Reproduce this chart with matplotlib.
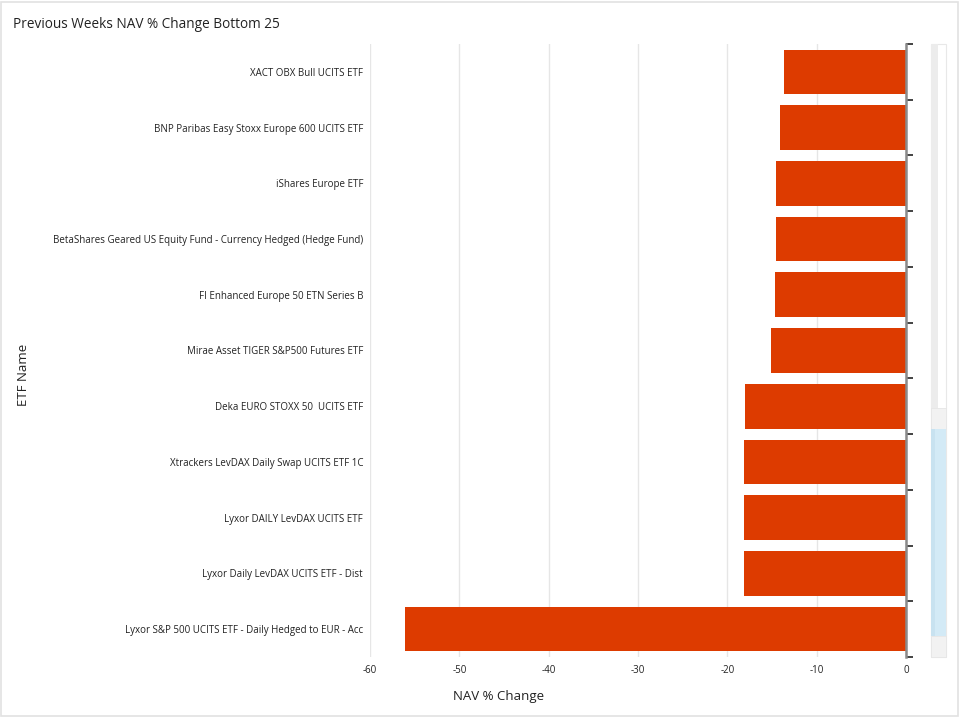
import matplotlib
matplotlib.use("Agg")
import matplotlib.pyplot as plt
from matplotlib.patches import Rectangle
import numpy as np

plt.rcParams['font.family'] = ['Open Sans', 'DejaVu Sans']

etf_names = [
    "XACT OBX Bull UCITS ETF",
    "BNP Paribas Easy Stoxx Europe 600 UCITS ETF",
    "iShares Europe ETF",
    "BetaShares Geared US Equity Fund - Currency Hedged (Hedge Fund)",
    "FI Enhanced Europe 50 ETN Series B",
    "Mirae Asset TIGER S&P500 Futures ETF",
    "Deka EURO STOXX 50  UCITS ETF",
    "Xtrackers LevDAX Daily Swap UCITS ETF 1C",
    "Lyxor DAILY LevDAX UCITS ETF",
    "Lyxor Daily LevDAX UCITS ETF - Dist",
    "Lyxor S&P 500 UCITS ETF - Daily Hedged to EUR - Acc",
]
nav_change = [-13.66, -14.10, -14.55, -14.55, -14.66, -15.11,
              -18.02, -18.13, -18.13, -18.13, -56.08]
x_ticks = [-60, -50, -40, -30, -20, -10, 0]

W, H = 960, 720
fig = plt.figure(figsize=(W / 100, H / 100), dpi=100)
fig.patch.set_facecolor('white')

# card border
fig.add_artist(Rectangle((1 / W, 4 / H), 957 / W, 714 / H, transform=fig.transFigure,
                         fill=False, edgecolor='#e2e2e2', linewidth=1.2))

ax = fig.add_axes([370 / W, 63 / H, 536 / W, 613 / H])
y = np.arange(len(etf_names))
ax.barh(y, nav_change, height=0.8, color='#dd3b00', zorder=3)

ax.set_xlim(-60, 0)
ax.set_ylim(len(etf_names) - 0.5, -0.5)
ax.set_xticks(x_ticks)
ax.set_xticklabels([str(t) for t in x_ticks])
ax.set_yticks(y)
ax.set_yticklabels(etf_names)
ax.set_yticks(np.arange(len(etf_names) + 1) - 0.5, minor=True)

ax.grid(axis='x', color='#e6e6e6', linewidth=1, zorder=0)
ax.grid(axis='y', visible=False)
for s in ['top', 'left', 'bottom']:
    ax.spines[s].set_visible(False)
ax.spines['right'].set_color('#8a8a8a')
ax.spines['right'].set_linewidth(1.8)
ax.spines['right'].set_zorder(4)

ax.tick_params(axis='x', length=0, labelsize=7, colors='#222222', pad=6)
ax.tick_params(axis='y', which='major', length=0, labelsize=7, colors='#222222', pad=5)
ax.tick_params(axis='y', which='minor', left=False, right=True, length=5,
               width=1.2, color='#222222', direction='out')

ax.set_xlabel('NAV % Change', fontsize=9.5, color='#222222')
ax.xaxis.set_label_coords(0.2407, -0.065)
ax.xaxis.label.set_va('center')
ax.set_ylabel('ETF Name', fontsize=9.5, color='#222222')
ax.yaxis.set_label_coords(-0.647, 0.46)
ax.yaxis.label.set_va('center')

fig.text(13 / W, 1 - 24 / H, 'Previous Weeks NAV % Change Bottom 25', fontsize=9.8,
         color='#222222', ha='left', va='center')

# scrollbar decoration
def px_rect(x0, y0, x1, y1, **kw):
    fig.add_artist(Rectangle((x0 / W, 1 - y1 / H), (x1 - x0) / W, (y1 - y0) / H,
                             transform=fig.transFigure, **kw))

px_rect(931, 44, 946, 657, facecolor='white', edgecolor='#e8e8e8', linewidth=0.8)
px_rect(931, 44, 938, 657, facecolor='#ececec', edgecolor='none')
px_rect(931, 408, 946, 429, facecolor='#f2f2f2', edgecolor='#e6e6e6', linewidth=0.6)
px_rect(931, 429, 946, 636, facecolor='#d3eaf6', edgecolor='none')
px_rect(931, 429, 935, 636, facecolor='#c8e2f0', edgecolor='none')
px_rect(931, 636, 946, 657, facecolor='#f2f2f2', edgecolor='#e6e6e6', linewidth=0.6)

fig.savefig('out.png', dpi=100, facecolor='white')
